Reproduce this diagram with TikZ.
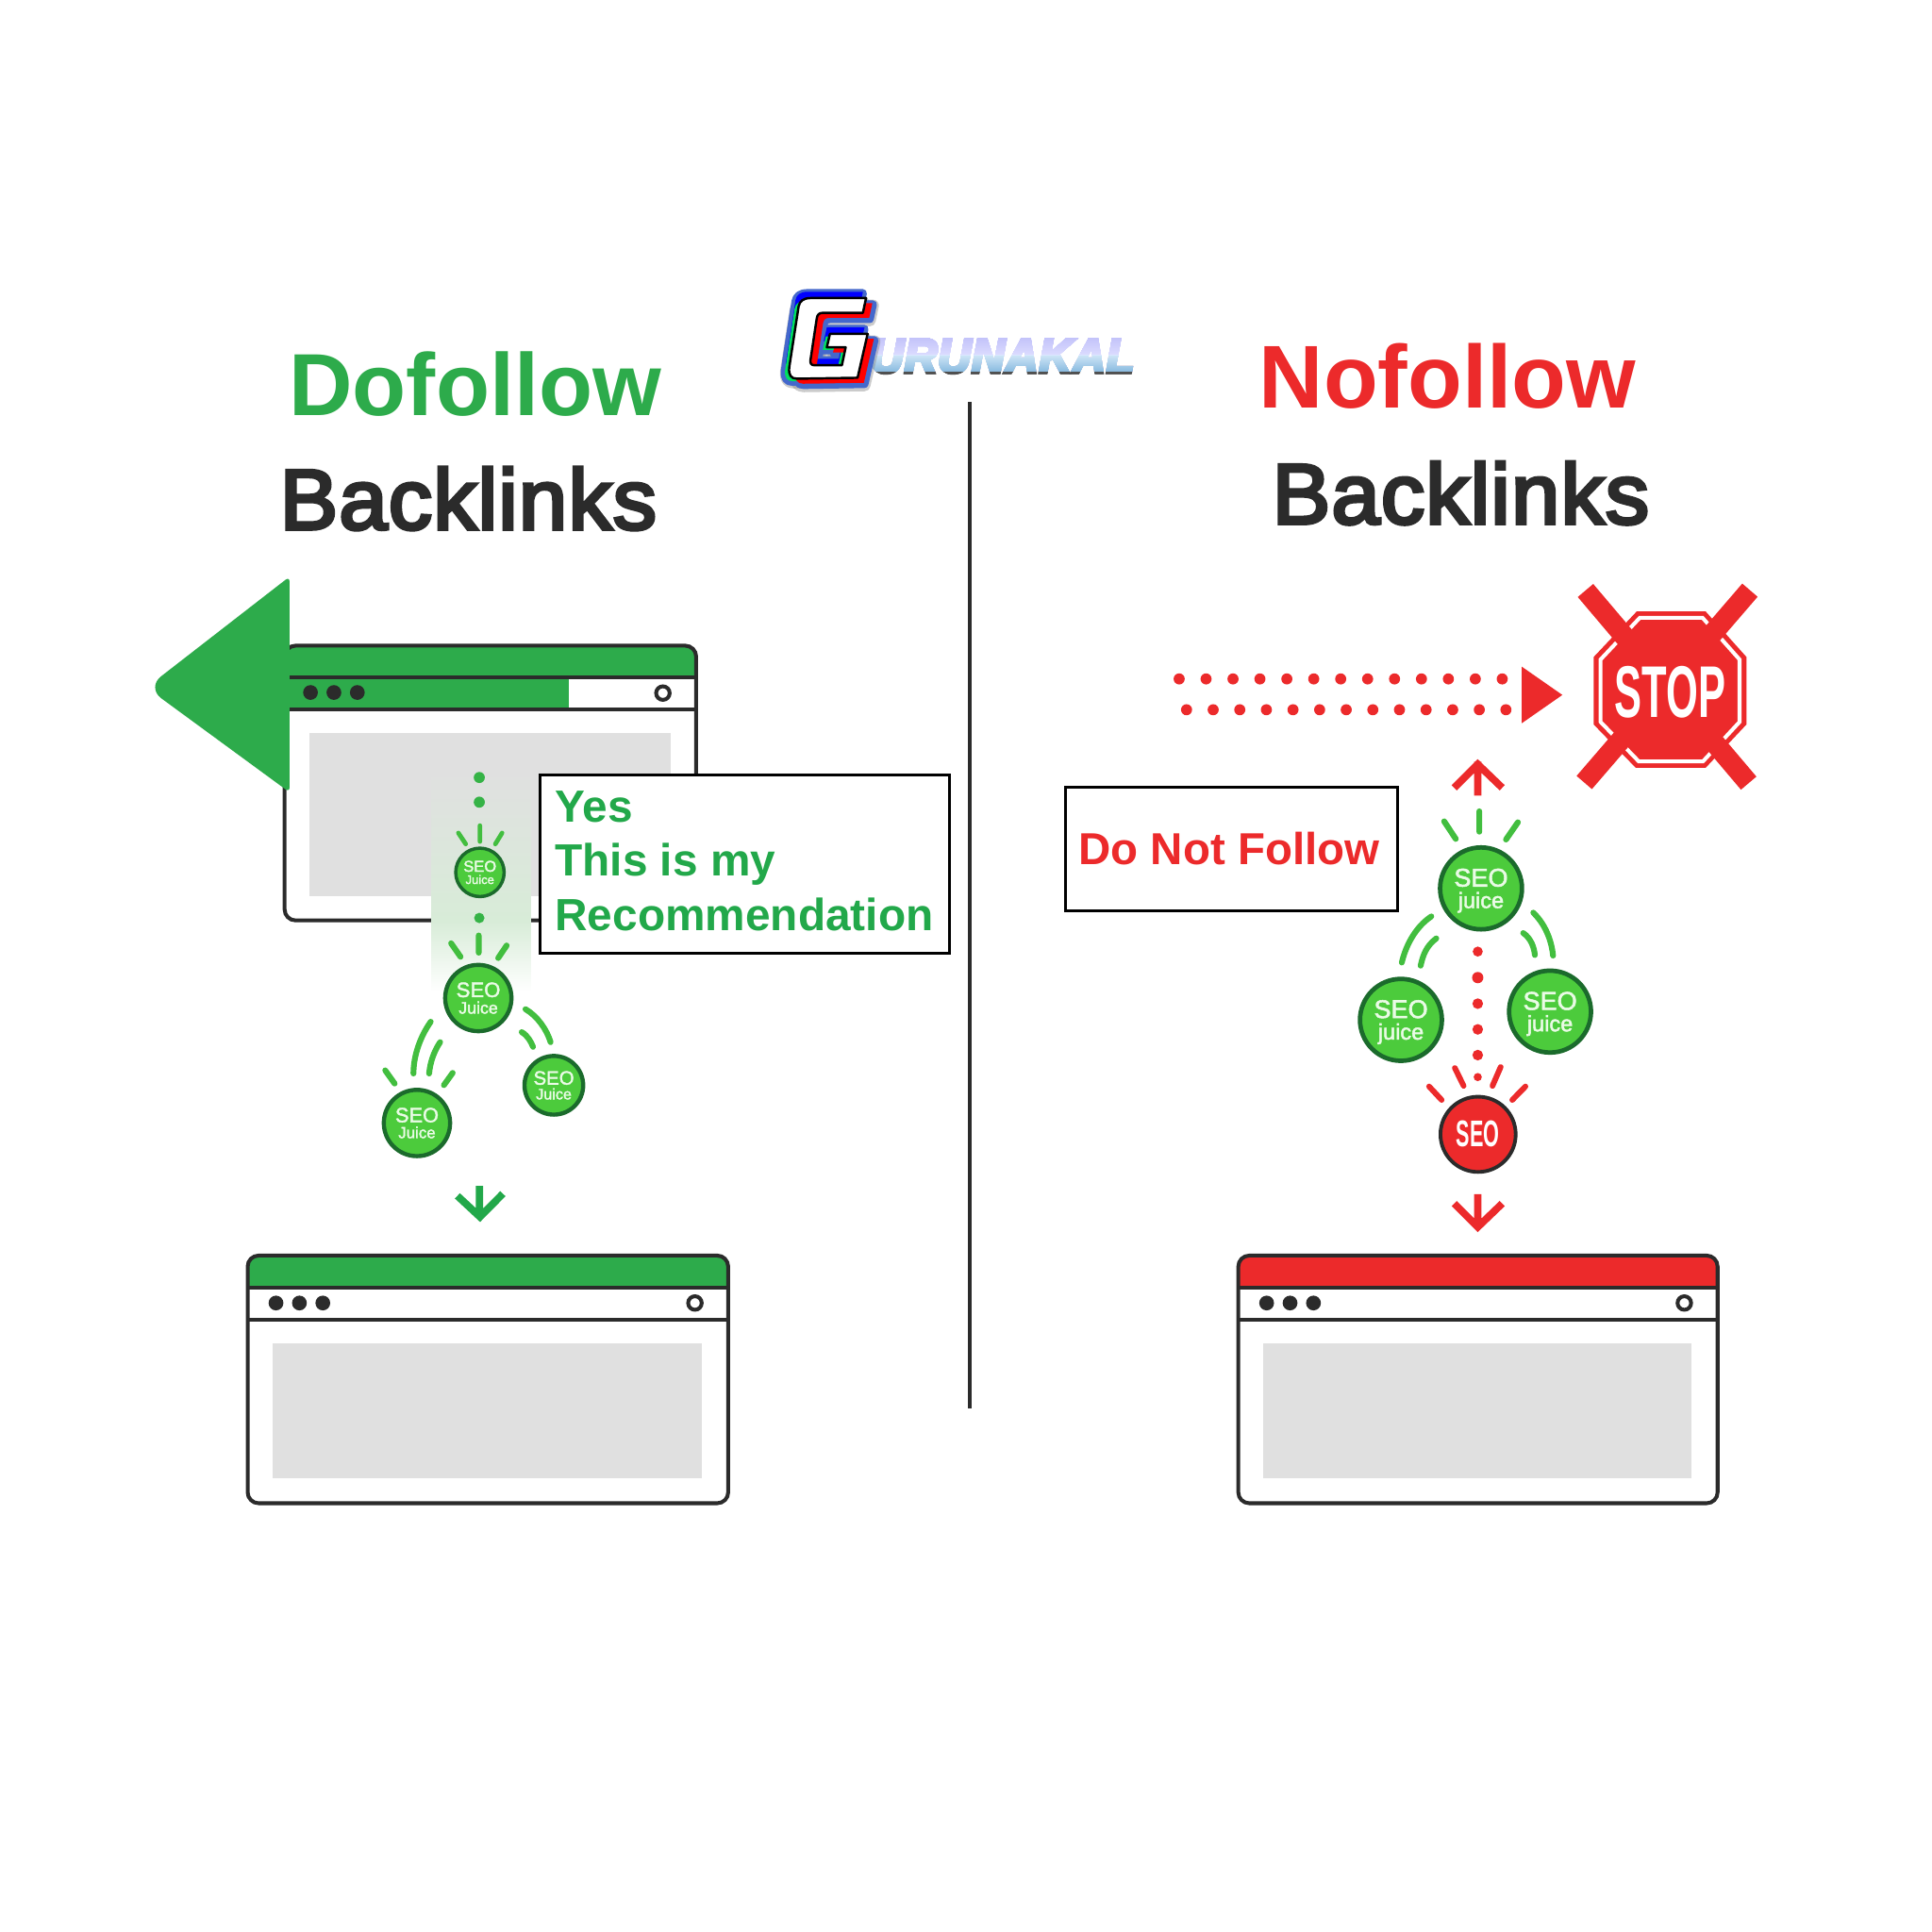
\documentclass[tikz,border=0pt]{standalone}
\usepackage{fontspec}
\setmainfont{Liberation Sans}
\newfontfamily\medfont[FakeBold=4,LetterSpace=1.2]{Liberation Sans}
\newfontfamily\ballfont[FakeBold=2]{Liberation Sans}
\newfontfamily\logofont[FakeBold=6,LetterSpace=1,BoldFont={Liberation Sans Bold Italic},ItalicFont={Liberation Sans Bold Italic}]{Liberation Sans Bold Italic}
\usetikzlibrary{calc}
\definecolor{dgreen}{HTML}{2DAB4B}
\definecolor{tgreen}{HTML}{22A84A}
\definecolor{ballgreen}{HTML}{4CCB3C}
\definecolor{ringgreen}{HTML}{1B6B2C}
\definecolor{tickgreen}{HTML}{42BE3F}
\definecolor{myred}{HTML}{EC2A2B}
\definecolor{ink}{HTML}{2B2B2B}
\definecolor{panel}{HTML}{E0E0E0}
\definecolor{fadegreen}{HTML}{D8ECD8}
\definecolor{ballink}{HTML}{EAFBE6}
\definecolor{lgA}{HTML}{BCBCF8}
\definecolor{lgB}{HTML}{DCDCFF}
\definecolor{lgC}{HTML}{CCE4F6}
\definecolor{lgD}{HTML}{8CBCE0}
\definecolor{lgEdge}{HTML}{505050}
\definecolor{logoglow}{HTML}{4468CC}
\definecolor{logoblue}{HTML}{0000FF}
\definecolor{logored}{HTML}{FF0000}
\definecolor{logogreen}{HTML}{00E060}
\tikzset{
  u/.style={x=0.013061cm,y=-0.013061cm},
  zoomgrid/.style={x=0.003333cm,y=-0.003333cm},
  frameline/.style={draw=ink,line width=1.15pt},
  panelbox/.style={fill=panel},
  dotblack/.style={fill=ink,draw=none},
  gtick/.style={draw=tickgreen,line width=1.75pt,line cap=round},
  gticksmall/.style={draw=tickgreen,line width=1.35pt,line cap=round},
  rtick/.style={draw=myred,line width=1.7pt,line cap=round},
  reddot/.style={fill=myred,draw=none},
  greendot/.style={fill=dgreen!60!tickgreen,draw=none},
  rarrow/.style={draw=myred,line width=2.2pt,miter limit=10},
  garrow/.style={draw=tgreen,line width=2.2pt,miter limit=10},
  ball/.style={circle,fill=ballgreen,draw=ringgreen,text=ballink,inner sep=0pt,align=center},
  msgbox/.style={draw=black,fill=white,line width=0.85pt,rectangle,inner sep=0pt,anchor=north west},
  title/.style={anchor=base west,inner sep=0pt,font=\bfseries\fontsize{#1}{#1}\selectfont},
  medtitle/.style={anchor=base west,inner sep=0pt,font=\medfont\fontsize{#1}{#1}\selectfont},
}
% name, x, y, diameter(pt), ring(pt), SEO pt, word pt, leading pt, word
\newcommand\seoball[9]{\node[ball,minimum size=#4pt,line width=#5pt,
  font=\ballfont\fontsize{#6}{#8}\selectfont] (#1) at (#2,#3) {SEO\\\fontsize{#7}{#8}\selectfont \smash{#9}};}
% left, right, top, bottom, band colour
\newcommand\browser[5]{%
  \fill[#5,rounded corners=3.3pt] (#1,#3) rectangle (#2,#3+40);
  \fill[white] (#1,#3+26) rectangle (#2,#3+52);
  \draw[frameline,rounded corners=3.3pt] (#1,#3) rectangle (#2,#4);
  \draw[frameline] (#1,#3+26) -- (#2,#3+26) (#1,#3+52) -- (#2,#3+52);
  \fill[panelbox] (#1+20,#3+71) rectangle (#2-21,#4-20);
  \fill[dotblack] (#1+23,#3+38.5) circle (6) (#1+42,#3+38.5) circle (6) (#1+61,#3+38.5) circle (6);
  \draw[ink,line width=1.15pt,fill=white] (#2-27,#3+38.5) circle (5.5);
}
\begin{document}
\begin{tikzpicture}[u]
\useasboundingbox (0,0) rectangle (1568,1568);
\fill[white] (0,0) rectangle (1568,1568);

% divider
\coordinate (divtop) at (787,326);
\coordinate (divbot) at (787,1143);
\draw[ink,line width=1pt] (divtop) -- (divbot);

% titles
\node[title=26.6,text=dgreen] (dofollow) at (234,337.5) {Dofollow};
\node[medtitle=25.8,text=ink] (backl) at (226.5,429.5) {\scalebox{1.02}[1]{Backlinks}};
\node[title=26.9,text=myred] (nofollow) at (1021.5,331) {Nofollow};
\node[medtitle=25.8,text=ink] (backr) at (1032,425) {\scalebox{1.02}[1]{Backlinks}};

% logo text: one text, coloured by a gradient laid on it
\node[anchor=base west,inner sep=0pt,text=black,font=\logofont\fontsize{14.6}{14.6}\selectfont] (logotext) at (706,302.5) {\scalebox{0.95}[1]{URUNAKAL}};
\begin{scope}[blend mode=lighten]
  \fill[top color=lgA,bottom color=lgB] (700,270) rectangle (930,288.5);
  \fill[top color=lgC,bottom color=lgD] (700,288.5) rectangle (930,301);
  \fill[lgEdge] (700,301) rectangle (930,308);
  \fill[lgEdge] (700,268) rectangle (930,273.8);
\end{scope}
% logo G
\begin{scope}[shift={(597.2,214.4)},zoomgrid]
  \def\gshape{(415,108) -- (238,108) .. controls (215,108) and (203,118) .. (200,135)
     -- (170,330) .. controls (168,352) and (175,365) .. (195,365) -- (388,362) -- (420,222)
     -- (300,222) -- (290,265) -- (350,265) -- (338,322) -- (250,322) .. controls (240,322) and (236,315) .. (238,305)
     -- (258,172) .. controls (260,160) and (266,155) .. (278,155) -- (405,155) -- cycle}
  \begin{scope}[line width=3.6pt,line join=round,draw=black!45,fill=black!45,draw opacity=.45,fill opacity=.45]
    \filldraw[shift={(-10,12)}] \gshape;
    \filldraw[shift={(22,24)}] \gshape;
  \end{scope}
  \begin{scope}[line width=2.4pt,line join=round,draw=logoglow,fill=logoglow]
    \filldraw[shift={(-10,-16)}] \gshape;
    \filldraw[shift={(22,20)}] \gshape;
    \filldraw[shift={(-14,10)}] \gshape;
  \end{scope}
  \fill[logoblue,shift={(-10,-20)}] \gshape;
  \fill[logogreen,shift={(-13,8)}] \gshape;
  \fill[logored,shift={(20,16)}] \gshape;
  \fill[white,draw=black,line width=0.7pt,line join=round] \gshape;
\end{scope}

% top left browser
\browser{231}{565}{524}{747}{dgreen}
\fill[dgreen] (233,551) rectangle (462,574);
\fill[dotblack] (252,562) circle (6) (271,562) circle (6) (290,562) circle (6);
% light column
\fill[top color=panel,bottom color=fadegreen] (350,625) rectangle (431,748);
\fill[top color=fadegreen,bottom color=white] (350,748) rectangle (431,805);
% left arrow
\fill[dgreen] [rounded corners=1.5pt] (235,468) -- (235,643) [rounded corners=5.5pt] -- (119,558) [rounded corners=1.5pt] -- cycle;

% dots / ticks upper
\fill[greendot] (389,631) circle (4.5) (389,651) circle (4.5) (389,745) circle (4.2);
\draw[gticksmall] (389.5,670) -- (389.5,683) (372,676) -- (378,685) (407.5,676) -- (402,685);
\seoball{ballA}{389.5}{708}{14.6}{1.0}{4.7}{3.7}{3.7}{Juice}

% message box left
\node[msgbox,minimum width=123.5pt,minimum height=53.6pt] (yesbox) at (437,628) {};
\node[anchor=west,inner sep=0pt,align=left,text=tgreen,font=\bfseries\fontsize{13.6}{16.35}\selectfont] (yestext) at (450,698.5) {Yes\\This is my\\Recommendation};

% lower left group (traced at 3x crop)
\begin{scope}[shift={(291,735)},zoomgrid]
  \draw[gtick] (383,95) -- (383,150) (295,120) -- (325,163) (472,127) -- (445,167);
  \draw[gtick] (230,370) .. controls (195,420) and (175,480) .. (175,535);
  \draw[gtick] (260,435) .. controls (240,465) and (228,500) .. (225,535);
  \draw[gtick] (532,330) .. controls (570,352) and (600,395) .. (612,435);
  \draw[gtick] (520,403) .. controls (540,415) and (550,435) .. (556,450);
  \draw[gtick] (85,525) -- (115,567) (300,533) -- (272,572);
  \draw[garrow] (385,893) -- (385,990) (315,925) -- (387,992) -- (460,918);
\end{scope}
\seoball{ballB}{388.2}{810}{20}{1.25}{6.3}{5.05}{5}{Juice}
\seoball{ballC}{338.4}{911.4}{20}{1.25}{6.2}{4.8}{4.8}{Juice}
\seoball{ballD}{449.5}{880.8}{17.7}{1.25}{5.8}{4.6}{4.45}{Juice}

% bottom browsers
\browser{201}{591}{1019}{1220}{dgreen}
\browser{1005}{1394}{1019}{1220}{myred}

% dotted arrow
\foreach \i in {0,...,12} {
  \fill[reddot] (957+21.85*\i,551) circle (4.5);
  \fill[reddot] (963+21.6*\i,576) circle (4.5);
}
\fill[myred] (1235,541) -- (1268,564) -- (1235,587) -- cycle;

% stop sign (traced at 3x crop)
\begin{scope}[shift={(1271,467)},zoomgrid]
  \fill[myred] (225,115) -- (445,115) -- (575,260) -- (575,475) -- (445,613) -- (222,613) -- (88,475) -- (88,260) -- cycle;
  \draw[white,line width=1.15pt] (235,135) -- (435,135) -- (553,268) -- (553,467) -- (436,593) -- (232,593) -- (110,467) -- (110,268) -- cycle;
  \draw[myred,line width=6.1pt] (62,48) -- (582,662) (586,47) -- (58,660);
\end{scope}
\node[inner sep=0pt,text=white,font=\bfseries\fontsize{22.1}{22.1}\selectfont] (stoptext) at (1355.5,561.5) {\scalebox{0.56}[1]{STOP}};

% message box right
\node[msgbox,minimum width=100pt,minimum height=37.2pt] (dnfbox) at (864,638) {};
\node[anchor=base west,inner sep=0pt,text=myred,font=\bfseries\fontsize{13.5}{13.5}\selectfont] (dnftext) at (875,702) {Do Not Follow};

% right group (traced at 3x crop)
\begin{scope}[shift={(1072,612.6)},zoomgrid]
  \draw[rarrow] (500,130) -- (500,22) (425,105) -- (500,30) -- (578,105);
  \draw[gtick] (505,180) -- (505,245) (393,212) -- (430,268) (628,215) -- (590,270);
  \draw[gtick] (352,515) .. controls (300,550) and (270,610) .. (258,662);
  \draw[gtick] (368,585) .. controls (335,610) and (325,640) .. (318,672);
  \draw[gtick] (677,503) .. controls (715,540) and (735,590) .. (740,640);
  \draw[gtick] (645,568) .. controls (670,585) and (680,615) .. (682,638);
  \fill[reddot] (500,627) circle (16) (500,710) circle (18) (500,793) circle (17) (500,875) circle (17) (500,957) circle (17) (500,1027) circle (13);
  \draw[rtick] (427,998) -- (455,1055) (573,995) -- (547,1055) (345,1057) -- (385,1100) (652,1057) -- (610,1100);
  \draw[rarrow] (500,1400) -- (500,1500) (425,1430) -- (500,1505) -- (578,1430);
\end{scope}
\seoball{ballE}{1202}{721}{24.7}{1.35}{7.7}{6.7}{6.5}{juice}
\seoball{ballF}{1137}{827.7}{24.7}{1.35}{7.7}{6.7}{6.5}{juice}
\seoball{ballG}{1258}{821}{24.7}{1.35}{7.7}{6.7}{6.5}{juice}
\node[circle,minimum size=22.7pt,inner sep=0pt,fill=myred,draw=ink,line width=1.1pt,text=white,font=\bfseries\fontsize{11.2}{11.2}\selectfont] (ballH) at (1199.6,920.6) {\scalebox{0.55}[1]{SEO}};
\end{tikzpicture}
\end{document}
